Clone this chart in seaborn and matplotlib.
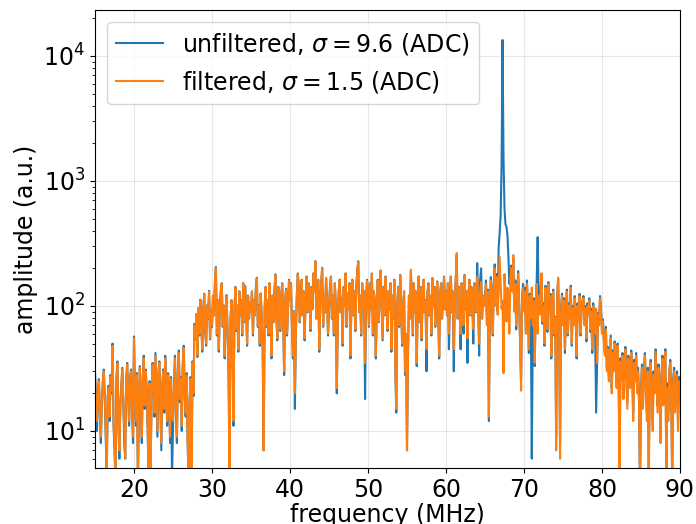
import numpy as np
import pandas as pd
import matplotlib
matplotlib.use("Agg")
import matplotlib.pyplot as plt
import seaborn as sns

# frequency range (MHz); bins are uniformly spaced (~0.125 MHz)
freq_start, freq_stop = 15.0, 90.0

# unfiltered spectrum, per 5 MHz block
unf_15_20 = [30, 17, 10, 21, 26, 13, 8, 17, 25, 31, 18, 9, 4, 19, 23, 12, 28, 20, 50, 11, 7, 4, 27, 36, 11, 6, 17, 23, 32, 17, 8, 6, 25, 35, 19, 11, 27, 31, 14, 8]
unf_20_25 = [57, 19, 11, 29, 4, 14, 33, 17, 8, 26, 40, 15, 31, 21, 10, 4, 25, 5, 17, 35, 27, 13, 42, 19, 9, 29, 36, 16, 7, 23, 31, 14, 40, 25, 11, 29, 18, 8, 27, 4]
unf_25_30 = [11, 23, 40, 14, 8, 31, 44, 17, 27, 10, 34, 48, 19, 13, 29, 8, 4, 17, 27, 4, 36, 19, 72, 54, 86, 39, 96, 58, 112, 74, 43, 91, 125, 63, 48, 101, 79, 132, 54, 91]
unf_30_35 = [68, 121, 84, 152, 205, 58, 111, 43, 96, 132, 152, 68, 101, 38, 84, 122, 58, 28, 4, 79, 111, 53, 11, 91, 142, 63, 101, 43, 131, 84, 111, 58, 152, 74, 144, 96, 48, 121, 79, 106]
unf_35_40 = [91, 131, 58, 111, 84, 142, 168, 68, 101, 48, 126, 79, 43, 7, 96, 142, 68, 111, 58, 152, 91, 38, 121, 74, 131, 179, 84, 53, 142, 101, 63, 121, 152, 79, 28, 111, 137, 58, 96, 162]
unf_40_45 = [111, 152, 68, 38, 91, 15, 58, 121, 182, 142, 74, 101, 162, 84, 131, 53, 111, 172, 89, 152, 121, 63, 142, 94, 182, 131, 228, 79, 111, 162, 43, 101, 152, 202, 68, 121, 89, 167, 111, 58]
unf_45_50 = [94, 142, 172, 79, 121, 58, 152, 101, 20, 74, 131, 162, 89, 116, 48, 142, 101, 182, 68, 126, 94, 152, 38, 111, 162, 84, 131, 63, 142, 192, 228, 89, 121, 58, 152, 101, 131, 18, 111, 162]
unf_50_55 = [121, 68, 152, 94, 182, 58, 131, 111, 38, 89, 162, 74, 126, 192, 101, 53, 142, 84, 172, 111, 63, 131, 94, 152, 43, 121, 79, 162, 33, 14, 101, 142, 68, 177, 111, 48, 89, 131, 28, 58]
unf_55_60 = [7, 38, 121, 79, 190, 111, 58, 152, 89, 131, 33, 101, 172, 74, 142, 53, 121, 162, 89, 111, 30, 131, 152, 84, 121, 58, 167, 101, 142, 68, 111, 157, 89, 38, 126, 152, 79, 116, 172, 94]
unf_60_65 = [132, 84, 152, 45, 111, 172, 89, 131, 30, 121, 162, 255, 79, 142, 101, 45, 152, 116, 60, 177, 94, 131, 35, 121, 162, 84, 142, 106, 50, 152, 126, 89, 220, 111, 40, 160, 200, 79, 121, 101]
unf_65_70 = [115, 160, 72, 135, 12, 95, 170, 125, 58, 150, 215, 105, 180, 90, 290, 380, 520, 1300, 13400, 1500, 600, 450, 430, 370, 250, 150, 170, 210, 135, 240, 95, 160, 65, 125, 190, 105, 50, 25, 115, 150]
unf_70_75 = [95, 140, 62, 160, 105, 42, 125, 78, 6, 72, 115, 33, 100, 155, 355, 125, 88, 135, 175, 72, 105, 48, 145, 115, 62, 155, 92, 125, 38, 105, 135, 58, 82, 9, 115, 165, 72, 8, 95, 125]
unf_75_80 = [72, 115, 42, 95, 135, 58, 105, 82, 145, 48, 100, 72, 120, 88, 38, 105, 78, 125, 58, 95, 110, 120, 72, 100, 52, 105, 88, 115, 62, 95, 42, 105, 82, 58, 14, 35, 88, 72, 120, 95]
unf_80_85 = [63, 78, 52, 42, 68, 32, 47, 27, 40, 58, 22, 44, 32, 52, 37, 24, 50, 30, 6, 38, 27, 42, 20, 34, 47, 28, 17, 40, 32, 24, 44, 30, 14, 37, 27, 42, 22, 32, 18, 3]
unf_85_90 = [22, 34, 17, 30, 42, 24, 14, 32, 5, 27, 37, 20, 12, 30, 22, 45, 26, 16, 34, 24, 10, 28, 40, 18, 32, 45, 5, 24, 14, 30, 37, 20, 4, 26, 32, 16, 22, 30, 12, 27, 22]

# filtered spectrum, per 5 MHz block
fil_15_20 = [28, 18, 12, 20, 25, 14, 9, 16, 24, 30, 19, 11, 4, 18, 22, 13, 27, 21, 48, 12, 8, 4, 26, 35, 12, 7, 16, 22, 31, 18, 10, 6, 24, 34, 20, 12, 26, 30, 15, 9]
fil_20_25 = [55, 20, 12, 28, 4, 15, 32, 18, 9, 25, 38, 16, 30, 22, 11, 4, 24, 5, 18, 34, 26, 14, 40, 20, 10, 28, 35, 17, 8, 22, 30, 15, 38, 24, 12, 28, 19, 9, 26, 14]
fil_25_30 = [12, 22, 38, 15, 9, 30, 42, 18, 26, 11, 33, 46, 20, 14, 28, 9, 4, 18, 26, 4, 35, 20, 70, 55, 85, 40, 95, 60, 110, 75, 45, 90, 123, 65, 50, 100, 80, 130, 55, 90]
fil_30_35 = [70, 120, 85, 150, 200, 60, 110, 45, 95, 130, 150, 70, 100, 40, 85, 120, 60, 30, 4, 80, 110, 55, 12, 90, 140, 65, 100, 45, 130, 85, 110, 60, 150, 75, 142, 95, 50, 120, 80, 105]
fil_35_40 = [90, 130, 60, 110, 85, 140, 166, 70, 100, 50, 125, 80, 45, 7, 95, 140, 70, 110, 60, 150, 90, 40, 120, 75, 130, 177, 85, 55, 140, 100, 65, 120, 150, 80, 30, 110, 135, 60, 95, 160]
fil_40_45 = [110, 150, 70, 40, 90, 20, 60, 120, 180, 140, 75, 100, 160, 85, 130, 55, 110, 170, 90, 150, 120, 65, 140, 95, 180, 130, 225, 80, 110, 160, 45, 100, 150, 200, 70, 120, 90, 165, 110, 60]
fil_45_50 = [95, 140, 170, 80, 120, 60, 150, 100, 22, 75, 130, 160, 90, 115, 50, 140, 100, 180, 70, 125, 95, 150, 40, 110, 160, 85, 130, 65, 140, 190, 225, 90, 120, 60, 150, 100, 130, 35, 110, 160]
fil_50_55 = [120, 70, 150, 95, 180, 60, 130, 110, 40, 90, 160, 75, 125, 190, 100, 55, 140, 85, 170, 110, 65, 130, 95, 150, 45, 120, 80, 160, 35, 15, 100, 140, 70, 175, 110, 50, 90, 130, 30, 60]
fil_55_60 = [7, 40, 120, 80, 195, 110, 60, 150, 90, 130, 35, 100, 170, 75, 140, 55, 120, 160, 90, 110, 45, 130, 150, 85, 120, 60, 165, 100, 140, 70, 110, 155, 90, 40, 125, 150, 80, 115, 170, 95]
fil_60_65 = [130, 85, 150, 60, 110, 170, 90, 130, 45, 120, 160, 265, 80, 140, 100, 60, 150, 115, 70, 175, 95, 130, 55, 120, 160, 85, 140, 105, 65, 150, 125, 90, 170, 110, 50, 135, 155, 80, 120, 100]
fil_65_70 = [110, 150, 70, 130, 13, 90, 160, 120, 60, 140, 200, 100, 170, 85, 130, 247, 150, 95, 110, 29, 180, 120, 75, 140, 100, 60, 160, 200, 130, 255, 90, 150, 70, 120, 180, 100, 55, 21, 110, 140]
fil_70_75 = [90, 130, 60, 150, 100, 45, 120, 80, 140, 70, 110, 35, 95, 150, 60, 120, 85, 130, 183, 75, 100, 50, 140, 110, 65, 150, 90, 120, 40, 100, 130, 60, 80, 7, 110, 168, 70, 6, 90, 120]
fil_75_80 = [70, 110, 45, 90, 130, 60, 100, 80, 140, 50, 95, 70, 115, 85, 40, 100, 75, 120, 60, 90, 105, 115, 70, 95, 55, 100, 85, 110, 65, 90, 45, 100, 80, 60, 95, 35, 85, 70, 115, 90]
fil_80_85 = [60, 75, 50, 40, 65, 30, 45, 25, 38, 55, 20, 42, 30, 50, 35, 22, 48, 28, 4, 36, 25, 40, 18, 32, 45, 26, 15, 38, 30, 22, 42, 28, 12, 35, 25, 40, 20, 30, 16, 4]
fil_85_90 = [20, 32, 15, 28, 40, 22, 12, 30, 4, 25, 35, 18, 10, 28, 20, 43, 24, 14, 32, 22, 8, 26, 38, 16, 30, 43, 4, 22, 12, 28, 35, 18, 4, 24, 30, 14, 20, 28, 10, 25, 21]

label_unf = r"unfiltered, $\sigma = 9.6$ (ADC)"
label_fil = r"filtered, $\sigma = 1.5$ (ADC)"

unfiltered = (unf_15_20 + unf_20_25 + unf_25_30 + unf_30_35 + unf_35_40 + unf_40_45
              + unf_45_50 + unf_50_55 + unf_55_60 + unf_60_65 + unf_65_70 + unf_70_75
              + unf_75_80 + unf_80_85 + unf_85_90)
filtered = (fil_15_20 + fil_20_25 + fil_25_30 + fil_30_35 + fil_35_40 + fil_40_45
            + fil_45_50 + fil_50_55 + fil_55_60 + fil_60_65 + fil_65_70 + fil_70_75
            + fil_75_80 + fil_80_85 + fil_85_90)

df = pd.concat([
    pd.DataFrame({"freq": np.linspace(freq_start, freq_stop, len(unfiltered)),
                  "amp": unfiltered, "series": label_unf}),
    pd.DataFrame({"freq": np.linspace(freq_start, freq_stop, len(filtered)),
                  "amp": filtered, "series": label_fil}),
], ignore_index=True)

plt.rcParams["font.family"] = ["DejaVu Sans"]
fig = plt.figure(figsize=(6.96, 5.24), dpi=100)
ax = fig.add_axes([0.1365, 0.107, 0.8405, 0.874])

sns.lineplot(data=df, x="freq", y="amp", hue="series",
             palette=["#1f77b4", "#ff7f0e"], estimator=None, sort=False,
             linewidth=1.5, ax=ax)

ax.set_yscale("log")
ax.set_xlim(15, 90)
ax.set_ylim(5.06, 2.33e4)
ax.grid(True, color="#b0b0b0", alpha=0.3, linewidth=0.8)
ax.set_xlabel("frequency (MHz)", fontsize=17, labelpad=1)
ax.set_ylabel("amplitude (a.u.)", fontsize=17)
ax.tick_params(axis="both", which="major", labelsize=17)
ax.legend(loc="upper left", fontsize=17, title=None)

fig.savefig("out.png", dpi=100)
